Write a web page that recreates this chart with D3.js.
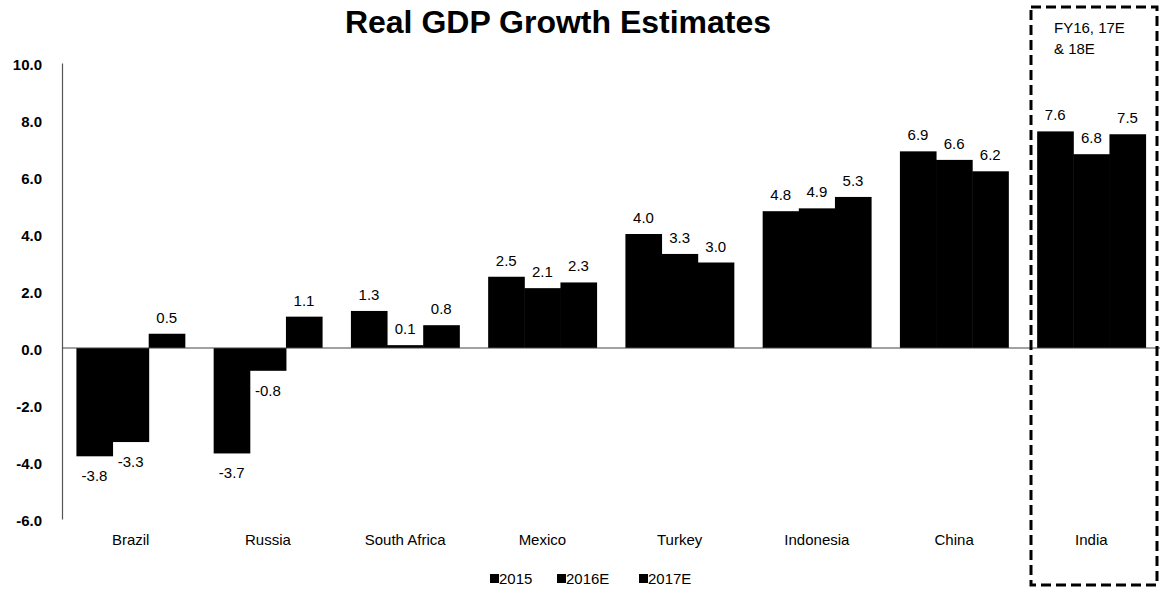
<!DOCTYPE html>
<html><head><meta charset="utf-8">
<script src="https://cdn.jsdelivr.net/npm/d3@7"></script>
<style>body{margin:0;background:#fff;} svg{display:block;}</style>
</head><body>
<svg id="chart" width="1161" height="589"></svg>
<script>
const categories = ["Brazil","Russia","South Africa","Mexico","Turkey","Indonesia","China","India"];
const seriesNames = ["2015","2016E","2017E"];
const values2015  = [-3.8,-3.7,1.3,2.5,4.0,4.8,6.9,7.6];
const values2016E = [-3.3,-0.8,0.1,2.1,3.3,4.9,6.6,6.8];
const values2017E = [0.5,1.1,0.8,2.3,3.0,5.3,6.2,7.5];
const yTicks = [-6,-4,-2,0,2,4,6,8,10];
const title = "Real GDP Growth Estimates";
const boxNote = ["FY16, 17E","& 18E"];

const series = [values2015, values2016E, values2017E];
const svg = d3.select("#chart");
const font = "'Liberation Sans', Arial, sans-serif";
const fmt = v => d3.format(".1f")(v).replace("\u2212","-");

const x0 = d3.scaleBand().domain(categories).range([62,1160]).paddingInner(0.21).paddingOuter(0.105);
const x1 = d3.scaleBand().domain(seriesNames).range([0,x0.bandwidth()]).padding(0);
const y = d3.scaleLinear().domain([-6,10]).range([519,63]);

// title
svg.append("text").attr("x",558).attr("y",33).attr("text-anchor","middle")
  .attr("font-family",font).attr("font-weight","bold").attr("font-size",32)
  .text(title);

// y axis
const yAxis = d3.axisLeft(y).tickValues(yTicks).tickSize(0).tickPadding(20).tickFormat(fmt);
const gy = svg.append("g").attr("transform","translate(62,0)").call(yAxis);
gy.select(".domain").attr("stroke","#555").attr("stroke-width",1.2);
gy.selectAll("text").attr("font-family",font).attr("font-size",15).attr("font-weight","bold").attr("fill","#000").attr("dy","0.45em");

// bars
const groups = svg.append("g").selectAll("g").data(categories).join("g")
  .attr("transform",d=>`translate(${x0(d)},0)`);
groups.each(function(cat,i){
  const g = d3.select(this);
  const rows = seriesNames.map((s,j)=>({s, v: series[j][i]}));
  g.selectAll("rect").data(rows).join("rect")
    .attr("x",d=>x1(d.s)).attr("width",x1.bandwidth()+0.5)
    .attr("y",d=>y(Math.max(0,d.v))).attr("height",d=>Math.abs(y(d.v)-y(0)))
    .attr("fill","#000");
  g.selectAll("text").data(rows).join("text")
    .attr("x",d=>x1(d.s)+x1.bandwidth()/2)
    .attr("y",d=>d.v>=0 ? y(d.v)-11 : y(d.v)+25)
    .attr("text-anchor","middle").attr("font-family",font).attr("font-size",15)
    .attr("fill","#000").text(d=>fmt(d.v));
});

// zero line
svg.append("line").attr("x1",62).attr("x2",1160).attr("y1",y(0)).attr("y2",y(0))
  .attr("stroke","#444").attr("stroke-width",1.2);

// category labels
const xAxis = d3.axisBottom(x0).tickSize(0).tickPadding(0);
const gx = svg.append("g").attr("transform","translate(0,534)").call(xAxis);
gx.select(".domain").remove();
gx.selectAll("text").attr("font-family",font).attr("font-size",15).attr("fill","#000");

// legend
const legendX = [490,557,639];
const leg = svg.append("g").selectAll("g").data(seriesNames).join("g")
  .attr("transform",(d,i)=>`translate(${legendX[i]},579)`);
leg.append("rect").attr("x",0).attr("y",-5).attr("width",9).attr("height",9).attr("fill","#000");
leg.append("text").attr("x",9).attr("y",5).attr("font-family",font).attr("font-size",15).text(d=>d);

// dashed box
svg.append("rect").attr("x",1031).attr("y",7).attr("width",126).attr("height",578)
  .attr("fill","none").attr("stroke","#000").attr("stroke-width",3).attr("stroke-dasharray","10,5");
svg.append("g").selectAll("text").data(boxNote).join("text")
  .attr("x",1054).attr("y",(d,i)=>33+i*21).attr("font-family",font).attr("font-size",15)
  .text(d=>d);
</script>
</body></html>
